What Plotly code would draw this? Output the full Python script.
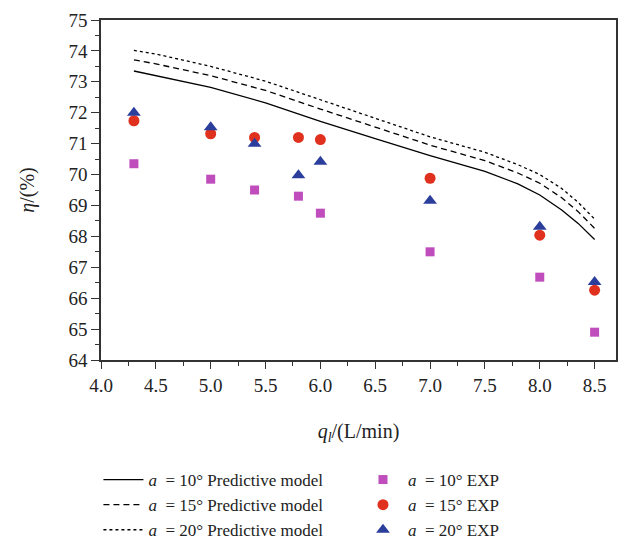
import plotly.graph_objects as go

# Experimental data
x_exp = [4.3, 5.0, 5.4, 5.8, 6.0, 7.0, 8.0, 8.5]
exp_10 = [70.35, 69.85, 69.5, 69.3, 68.75, 67.5, 66.68, 64.9]
exp_15 = [71.74, 71.32, 71.2, 71.2, 71.13, 69.88, 68.04, 66.26]
exp_20 = [72.0, 71.53, 71.0, 69.98, 70.41, 69.15, 68.31, 66.52]

# Predictive model curves
x_model = [4.3, 4.5, 5.0, 5.5, 6.0, 6.5, 7.0, 7.5, 7.8, 8.0, 8.2, 8.35, 8.5]
model_10 = [73.35, 73.2, 72.82, 72.32, 71.72, 71.16, 70.61, 70.1, 69.7, 69.34, 68.85, 68.42, 67.9]
model_15 = [73.71, 73.58, 73.2, 72.72, 72.12, 71.53, 70.95, 70.45, 70.05, 69.72, 69.25, 68.8, 68.26]
model_20 = [74.02, 73.9, 73.5, 73.02, 72.42, 71.82, 71.22, 70.72, 70.32, 70.0, 69.55, 69.1, 68.56]

FONT = "Liberation Serif, Times New Roman, serif"
AX = "#333333"

fig = go.Figure()
fig.add_trace(go.Scatter(x=x_model, y=model_10, mode="lines", line=dict(color="black", width=1.3, dash="solid"),
                         name="<i>a</i>  = 10° Predictive model", legend="legend"))
fig.add_trace(go.Scatter(x=x_model, y=model_15, mode="lines", line=dict(color="black", width=1.3, dash="6px,4px"),
                         name="<i>a</i>  = 15° Predictive model", legend="legend"))
fig.add_trace(go.Scatter(x=x_model, y=model_20, mode="lines", line=dict(color="black", width=1.3, dash="dot"),
                         name="<i>a</i>  = 20° Predictive model", legend="legend"))
fig.add_trace(go.Scatter(x=x_exp, y=exp_10, mode="markers", marker=dict(symbol="square", size=9, color="#BF4DBB"),
                         name="<i>a</i>  = 10° EXP", legend="legend2"))
fig.add_trace(go.Scatter(x=x_exp, y=exp_15, mode="markers", marker=dict(symbol="circle", size=11, color="#E0301E"),
                         name="<i>a</i>  = 15° EXP", legend="legend2"))
fig.add_trace(go.Scatter(x=x_exp, y=exp_20, mode="markers", marker=dict(symbol="triangle-up", size=12, color="#2B3E9C"),
                         name="<i>a</i>  = 20° EXP", legend="legend2"))

leg_common = dict(orientation="v", yanchor="top", xanchor="left", y=-0.30,
                  font=dict(size=17, family=FONT, color="#222222"), bgcolor="rgba(0,0,0,0)",
                  itemwidth=40, tracegroupgap=0)

fig.update_layout(
    width=620, height=541,
    margin=dict(l=101, r=4, t=20, b=181, autoexpand=False),
    paper_bgcolor="white", plot_bgcolor="white",
    font=dict(family=FONT, size=16, color="#222222"),
    showlegend=True,
    legend=dict(x=-0.005, **leg_common),
    legend2=dict(x=0.499, **leg_common),
)
fig.update_xaxes(range=[4.0, 8.695], tickmode="array", tickvals=[4.0, 4.5, 5.0, 5.5, 6.0, 6.5, 7.0, 7.5, 8.0, 8.5],
                 ticktext=["4.0", "4.5", "5.0", "5.5", "6.0", "6.5", "7.0", "7.5", "8.0", "8.5"],
                 ticks="outside", ticklen=7, tickwidth=1.3, tickcolor=AX,
                 minor=dict(tickvals=[4.25, 4.75, 5.25, 5.75, 6.25, 6.75, 7.25, 7.75, 8.25], ticks="outside", ticklen=4, tickcolor=AX, tickwidth=1.2),
                 showline=True, linecolor=AX, linewidth=1.6, mirror=True, showgrid=False, zeroline=False,
                 tickfont=dict(size=19, family=FONT),
                 title=dict(text="<i>q</i><sub><i>l</i></sub>/(L/min)", font=dict(size=20, family=FONT), standoff=29))
fig.update_yaxes(range=[64, 75], tickmode="array", tickvals=list(range(64, 76)),
                 ticks="outside", ticklen=8, tickwidth=1.3, tickcolor=AX,
                 minor=dict(tickvals=[64.5 + i for i in range(11)], ticks="outside", ticklen=4, tickcolor=AX, tickwidth=1.2),
                 showline=True, linecolor=AX, linewidth=1.6, mirror=True, showgrid=False, zeroline=False,
                 tickfont=dict(size=19, family=FONT),
                 title=dict(text="<i>η</i>/(%)", font=dict(size=20, family=FONT), standoff=28))

fig.write_html("out.html")
